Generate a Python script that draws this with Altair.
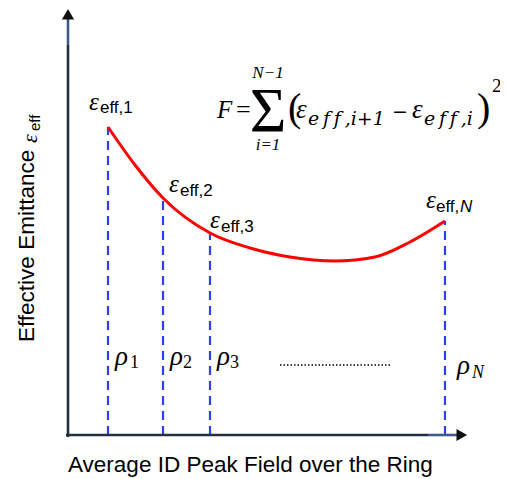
import altair as alt
import pandas as pd

# ---------------- data (schematic units: field on x, emittance on y) ----------------
curve_field = [1.0, 1.675, 2.375, 3.55, 4.55, 5.55, 6.675, 7.675, 8.55, 9.425]
curve_emit = [7.7, 6.75, 5.925, 5.05, 4.675, 4.45, 4.35, 4.45, 4.825, 5.35]
rho_field = [1.0, 2.375, 3.55, 9.425]
rho_emit = [7.7, 5.925, 5.05, 5.35]
eps_sub = ["eff,1", "eff,2", "eff,3", "eff,"]
rho_sub = ["1", "2", "3"]
x_title = "Average ID Peak Field over the Ring"
y_title = "Effective Emittance"

# ---------------- layout ----------------
W, H = 492, 471
xs = alt.Scale(domain=[-1.5, 10.8], nice=False, zero=False)
ys = alt.Scale(domain=[-1.1, 10.675], nice=False, zero=False)
X = alt.X("x:Q", scale=xs, axis=None)
Y = alt.Y("y:Q", scale=ys, axis=None)
X2 = alt.X2("x2:Q")
Y2 = alt.Y2("y2:Q")

SERIF = "Liberation Serif"
SANS = "Liberation Sans"
AXIS_DARK = "#243042"
AXIS_BLUE = "#3d5a8a"
TS = "\u2009"  # thin space


def txt(items, font, size, style="normal", align="left", angle=0, color="#000000"):
    df = pd.DataFrame(items, columns=["x", "y", "t"])
    kw = dict(font=font, fontSize=size, fontStyle=style, align=align,
              baseline="alphabetic", color=color)
    if angle:
        kw["angle"] = angle
    return alt.Chart(df).mark_text(**kw).encode(x=X, y=Y, text="t:N")


def segs(items, color, width, dash=None):
    df = pd.DataFrame(items, columns=["x", "y", "x2", "y2"])
    kw = dict(color=color, strokeWidth=width)
    if dash:
        kw["strokeDash"] = dash
    return alt.Chart(df).mark_rule(**kw).encode(x=X, y=Y, x2=X2, y2=Y2)


# axes with arrows
axes_dark = segs([(0, -0.05, 0, 9.75), (-0.05, 0, 9.0, 0)], AXIS_DARK, 2.6)
axes_blue = segs([(0, 9.75, 0, 10.45), (9.0, 0, 9.75, 0)], AXIS_BLUE, 2.6)
arrow_up = alt.Chart(pd.DataFrame({"x": [0], "y": [10.52]})).mark_point(
    shape="triangle-up", filled=True, size=150, color="#111111", opacity=1
).encode(x=X, y=Y)
arrow_right = alt.Chart(pd.DataFrame({"x": [9.845], "y": [0]})).mark_point(
    shape="triangle-right", filled=True, size=150, color="#111111", opacity=1
).encode(x=X, y=Y)

# dashed verticals from axis to curve
dashed = segs([(f, 0, f, e) for f, e in zip(rho_field, rho_emit)], "#2e3ff2", 2.2, [9, 6])

# red curve
curve = alt.Chart(pd.DataFrame({"x": curve_field, "y": curve_emit})).mark_line(
    color="#ff0000", strokeWidth=3, interpolate="monotone"
).encode(x=X, y=Y)

# dotted ellipsis
dots = segs([(5.3, 1.75, 8.1, 1.75)], "#000000", 1.3, [1.5, 2])

# epsilon labels
eps_x = [0.525, 2.525, 3.55, 8.95]
eps_y = [8.125, 6.075, 5.175, 5.675]
sub_x = [0.8, 2.8, 3.825, 9.2]
sub_y = [8.05, 5.975, 5.075, 5.575]
eps_sym = txt([(x, y, "ε") for x, y in zip(eps_x, eps_y)], SERIF, 25, "italic")
eps_subs = txt([(x, y, s) for x, y, s in zip(sub_x, sub_y, eps_sub)], SANS, 17)
eps_N = txt([(9.8, 5.575, "N")], SANS, 17, "italic")

# rho labels
rho_x = [1.175, 2.55, 3.725, 9.725]
rho_y = [1.75, 1.75, 1.75, 1.525]
rho_sym = txt([(x, y, "ρ") for x, y in zip(rho_x, rho_y)], SERIF, 27, "italic")
rho_subs = txt([(x, y, s) for x, y, s in zip([1.55, 2.875, 4.05], [1.675] * 3, rho_sub)], SERIF, 18)
rho_N = txt([(10.1, 1.425, "N")], SERIF, 18, "italic")

# formula
f_F = txt([(3.725, 7.925, "F")], SERIF, 25, "italic")
f_eps = txt([(5.7, 7.925, "ε"), (8.6, 7.925, "ε")], SERIF, 27, "italic")
f_eq = txt([(4.2, 7.925, "=")], SERIF, 26)
f_minus = txt([(8.1, 7.925, "−")], "DejaVu Serif", 19)
f_sum = txt([(5.0, 7.575, "Σ")], SERIF, 63, align="center")
f_lim = txt([(5.0, 8.925, "N−1"), (5.0, 7.125, "i=1")], SERIF, 17, "italic", align="center")
f_par = txt([(5.5, 7.85, "("), (10.225, 7.85, ")")], SERIF, 40)
f_sub = txt([(6.0, 7.75, "e" + TS + "f" + TS + "f" + TS + ",i+1"),
             (8.9, 7.75, "e" + TS + "f" + TS + "f" + TS + ",i")], "DejaVu Serif", 19, "italic")
f_sq = txt([(10.6, 8.575, "2")], SERIF, 19)

# axis titles
xt = txt([(0.0, -0.925, x_title)], SANS, 22.5)
yt = txt([(-0.85, 2.325, y_title)], SANS, 22.5, angle=270)
yt_eps = txt([(-0.775, 7.3, "ε")], SERIF, 22, "italic", angle=270)
yt_sub = txt([(-0.7, 7.6, "eff")], SANS, 15, angle=270)

chart = alt.layer(
    dashed, curve, axes_dark, axes_blue, arrow_up, arrow_right, dots,
    eps_sym, eps_subs, eps_N, rho_sym, rho_subs, rho_N,
    f_F, f_eps, f_eq, f_minus, f_sum, f_lim, f_par, f_sub, f_sq,
    xt, yt, yt_eps, yt_sub,
).properties(
    width=W, height=H, padding=0, autosize=alt.AutoSizeParams(type="none"),
    background="#ffffff",
).configure_view(strokeWidth=0)

chart.save("out.html", embed_options={"renderer": "svg", "actions": False})
